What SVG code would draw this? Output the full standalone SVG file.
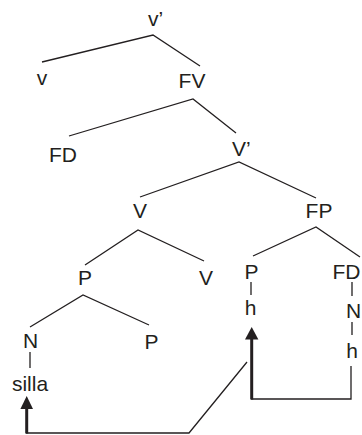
<svg xmlns="http://www.w3.org/2000/svg" width="362" height="435" viewBox="0 0 362 435">
<style>
text{font-family:"Liberation Sans",Arial,sans-serif;font-size:21px;fill:#231f20;text-anchor:middle}
.s{text-anchor:start}
.l{stroke:#231f20;stroke-width:1.3;fill:none}
.a{stroke:#231f20;stroke-width:3;fill:none}
.h{fill:#231f20;stroke:none}
</style>
<rect width="362" height="435" fill="#fff"/>
<g id="connectors">
<path class="l" d="M42,62 L153,35 L200,66"/>
<path class="l" d="M69,136 L193,99 L236,133"/>
<path class="l" d="M140,197 L239,162 L316,198"/>
<path class="l" d="M85,265 L138,230 L204,261"/>
<path class="l" d="M253,256 L316,227 L360,257"/>
<path class="l" d="M30,327 L83,295 L149,325"/>
<path class="l" d="M251,282 V295"/>
<path class="l" d="M352,282 V296 M352,322 V335"/>
<path class="l" d="M30,352 V368"/>
<path class="l" d="M251,399 H351 V366"/>
<path class="l" d="M247,362 L189,433 H26"/>
<path class="a" d="M251.7,399.5 V337"/>
<polygon class="h" points="251.7,327 245,339.5 258.4,339.5"/>
<path class="a" d="M26.7,433.5 V407"/>
<polygon class="h" points="26.7,396 20.4,409 33,409"/>
</g>
<g id="n-vbar"><text class="s" x="148" y="26">v’</text></g>
<g id="n-v"><text x="42" y="85">v</text></g>
<g id="n-FV"><text x="192" y="88">FV</text></g>
<g id="n-FD1"><text x="63" y="162">FD</text></g>
<g id="n-Vbar"><text class="s" x="232" y="156">V’</text></g>
<g id="n-V1"><text x="140" y="218">V</text></g>
<g id="n-FP"><text x="319" y="218">FP</text></g>
<g id="n-P1"><text x="85" y="285">P</text></g>
<g id="n-V2"><text x="206" y="285">V</text></g>
<g id="n-P2"><text x="251.5" y="279">P</text></g>
<g id="n-FD2"><text class="s" x="332.5" y="279">FD</text></g>
<g id="n-h1"><text x="250.5" y="315">h</text></g>
<g id="n-N2"><text x="353.5" y="318">N</text></g>
<g id="n-h2"><text x="352" y="358">h</text></g>
<g id="n-N1"><text x="30.5" y="348">N</text></g>
<g id="n-P3"><text x="151.5" y="349">P</text></g>
<g id="n-silla"><text x="30" y="391">silla</text></g>
</svg>
